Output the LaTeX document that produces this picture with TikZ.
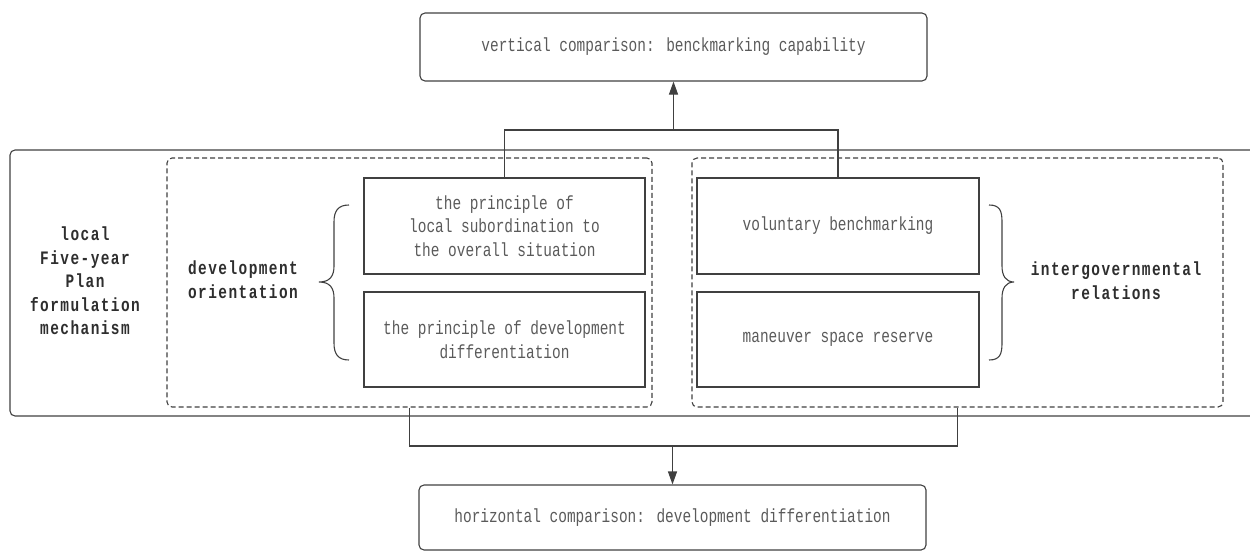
\documentclass[tikz,border=0pt]{standalone}
\usepackage{fontspec}
\usetikzlibrary{arrows.meta}
\newfontfamily\reffont[FakeStretch=0.76]{Liberation Mono}
\newfontfamily\reffontb[FakeStretch=0.76,LetterSpace=7.6]{Liberation Mono Bold}
\definecolor{linec}{HTML}{404040}
\definecolor{textc}{HTML}{5A5A5A}
\definecolor{boldc}{HTML}{2E2E2E}
\tikzset{
  base/.style={draw=linec, line width=1.1pt, inner sep=0pt, text=textc,
    align=center, font=\reffont\fontsize{19}{23.6}\selectfont},
  endbox/.style={base, rounded corners=5pt},
  itembox/.style={base},
  groupbox/.style={draw=linec, line width=1.1pt, dash pattern=on 5pt off 3pt, rounded corners=5pt, inner sep=0pt},
  outerbox/.style={draw=linec, line width=1.1pt, rounded corners=5pt, inner sep=0pt},
  boldlabel/.style={inner sep=0pt, text=boldc, align=center, font=\reffontb\fontsize{19}{23.6}\selectfont},
  conn/.style={draw=linec, line width=1.1pt},
  arr/.style={conn, -{Triangle[length=13pt,width=9pt]}},
}
\begin{document}
\begin{tikzpicture}[x=1pt,y=-1pt]
\useasboundingbox (0,0) rectangle (1250,551);
\clip (0,0) rectangle (1250,551);
% outer container
\node[outerbox, minimum width=1250pt, minimum height=266pt] (outer) at (635,283) {};
% dashed groups
\node[groupbox, minimum width=485pt, minimum height=249pt] (Ld) at (409.5,282.5) {};
\node[groupbox, minimum width=531pt, minimum height=249pt] (Rd) at (957.5,282.5) {};
% item boxes
\node[itembox, minimum width=281pt, minimum height=96pt] (A) at (504.5,226)
  {the principle of\\local subordination to\\the overall situation};
\node[itembox, minimum width=281pt, minimum height=95pt] (B) at (504.5,339.5)
  {the principle of development\\differentiation};
\node[itembox, minimum width=282pt, minimum height=96pt] (C) at (838,226)
  {voluntary benchmarking};
\node[itembox, minimum width=282pt, minimum height=95pt] (D) at (838,339.5)
  {maneuver space reserve};
% end boxes
\node[endbox, minimum width=507pt, minimum height=68pt] (top) at (673.5,47)
  {vertical comparison: benckmarking capability};
\node[endbox, minimum width=507pt, minimum height=65pt] (bot) at (672.5,517.5)
  {horizontal comparison: development differentiation};
% bold labels
\node[boldlabel] (mech) at (85,281) {local\\Five-year\\Plan\\formulation\\mechanism};
\node[boldlabel] (devo) at (243,280) {development\\orientation};
\node[boldlabel] (inter) at (1116,280.5) {intergovernmental\\relations};
% braces
\draw[conn] (349,205) .. controls (338,205) and (334,211) .. (334,222) -- (334,266)
  .. controls (334,276) and (330,282) .. (319,282)
  .. controls (330,282) and (334,288) .. (334,298) -- (334,343)
  .. controls (334,354) and (338,360) .. (349,360);
\draw[conn] (989,205) .. controls (1000,205) and (1002,211) .. (1002,222) -- (1002,266)
  .. controls (1002,276) and (1006,282) .. (1014,282)
  .. controls (1006,282) and (1002,288) .. (1002,298) -- (1002,343)
  .. controls (1002,354) and (1000,360) .. (989,360);
% connectors
\coordinate (tj) at (673.5,130);
\coordinate (bj) at (672.5,446);
\draw[conn] (A.north) |- (tj) -| (C.north);
\draw[arr] (tj) -- (top.south);
\draw[conn] (Ld.south) |- (bj) -| (Rd.south);
\draw[arr] (bj) -- (bot.north);
\end{tikzpicture}
\end{document}
